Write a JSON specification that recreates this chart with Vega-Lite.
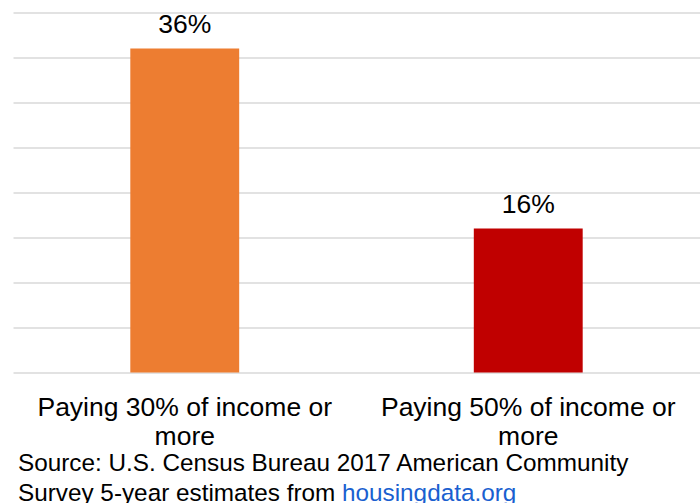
{
  "$schema": "https://vega.github.io/schema/vega-lite/v6.json",
  "autosize": {"type": "none"},
  "width": 687,
  "height": 360,
  "padding": {"left": 13, "top": 12.5, "right": 0, "bottom": 130.5},
  "background": "white",
  "config": {"view": {"stroke": null}, "font": "Liberation Sans"},
  "data": {"values": [
    {"category": "Paying 30% of income or more", "share": 36, "label": "36%"},
    {"category": "Paying 50% of income or more", "share": 16, "label": "16%"}
  ]},
  "title": {
    "text": ["Source: U.S. Census Bureau 2017 American Community", "Survey 5-year estimates from"],
    "subtitle": "\u200b\u00a0\u00a0\u00a0\u00a0\u00a0\u00a0\u00a0\u00a0\u00a0\u00a0\u00a0\u00a0\u00a0\u00a0\u00a0\u00a0\u00a0\u00a0\u00a0\u00a0\u00a0\u00a0\u00a0\u00a0\u00a0\u00a0\u00a0\u00a0\u00a0\u00a0\u00a0\u00a0\u00a0\u00a0\u00a0\u00a0\u00a0\u00a0\u00a0\u00a0\u00a0\u00a0\u00a0\u00a0\u00a0\u00a0\u00a0\u00a0housingdata.org",
    "orient": "bottom",
    "anchor": "start",
    "frame": "group",
    "dx": 5,
    "offset": 2,
    "fontSize": 24.3,
    "fontWeight": "normal",
    "color": "#000000",
    "lineHeight": 29.5,
    "subtitleFontSize": 24.3,
    "subtitleColor": "#1a5fd0",
    "subtitleLineHeight": 29.5,
    "subtitlePadding": -24,
    "font": "Liberation Sans",
    "subtitleFont": "Liberation Sans"
  },
  "encoding": {
    "x": {
      "field": "category",
      "type": "nominal",
      "sort": null,
      "scale": {"paddingInner": 0, "paddingOuter": 0},
      "axis": {
        "title": null,
        "domain": false,
        "ticks": false,
        "labelAngle": 0,
        "labelFontSize": 26.5,
        "labelColor": "#000000",
        "labelLimit": 0,
        "labelLineHeight": 29,
        "labelPadding": 22,
        "labelExpr": "[slice(datum.label, 0, -5), 'more']"
      }
    },
    "y": {
      "field": "share",
      "type": "quantitative",
      "scale": {"domain": [0, 40]},
      "axis": {
        "title": null,
        "labels": false,
        "ticks": false,
        "domain": false,
        "values": [0, 5, 10, 15, 20, 25, 30, 35, 40],
        "gridColor": "#d9d9d9",
        "gridWidth": 1.5
      }
    }
  },
  "layer": [
    {
      "mark": {"type": "bar", "width": {"band": 0.317}},
      "encoding": {
        "color": {
          "field": "category",
          "type": "nominal",
          "scale": {"range": ["#ED7D31", "#C00000"]},
          "legend": null
        }
      }
    },
    {
      "mark": {"type": "text", "baseline": "alphabetic", "dy": -16, "fontSize": 26.5, "color": "#000000"},
      "encoding": {"text": {"field": "label"}}
    }
  ]
}
